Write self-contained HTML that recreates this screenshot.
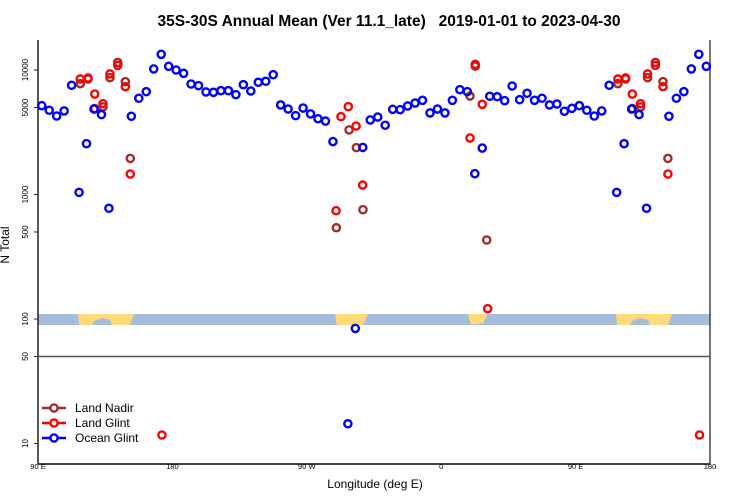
<!DOCTYPE html>
<html><head><meta charset="utf-8"><style>
body{margin:0;background:#fff}
svg{display:block;font-family:"Liberation Sans",sans-serif}
</style></head><body>
<svg id="chart" width="750" height="500" viewBox="0 0 750 500">
<text x="389" y="26" text-anchor="middle" font-size="15.5" font-weight="bold" style="white-space:pre">35S-30S Annual Mean (Ver 11.1_late)   2019-01-01 to 2023-04-30</text>
<g id="band">
<rect x="38" y="314" width="672" height="11" fill="#a6bcdb"/>
<path d="M78,314 L134,314 L130,325 L112,325 L110,320 L102,318 L94,321 L92,325 L79,325 Z" fill="#ffd97a"/>
<path d="M616,314 L672,314 L668,325 L650,325 L648,320 L640,318 L632,321 L630,325 L617,325 Z" fill="#ffd97a"/>
<path d="M335,314 L368,314 L363,325 L337,325 Z" fill="#ffd97a"/>
<path d="M468,314 L488,314 L483,323 L471,325 Z" fill="#ffd97a"/>
</g>
<g id="axes"></g>
<g id="marks"></g>
<g id="legend"></g>
<text x="375" y="488" text-anchor="middle" font-size="12">Longitude (deg E)</text>
<text transform="translate(9,245) rotate(-90)" text-anchor="middle" font-size="12">N Total</text>
</svg>
<script>
const oceanLon = [92.5,97.5,102.5,107.5,112.5,117.5,122.5,127.5,132.5,137.5,152.5,157.5,162.5,167.5,172.5,177.5,182.5,187.5,192.5,197.5,202.5,207.5,212.5,217.5,222.5,227.5,232.5,237.5,242.5,247.5,252.5,257.5,262.5,267.5,272.5,277.5,282.5,287.5,297.5,302.5,307.5,312.5,317.5,322.5,327.5,332.5,337.5,342.5,347.5,352.5,357.5,362.5,367.5,372.5,377.5,382.5,387.5,392.5,397.5,402.5,407.5,412.5,417.5,422.5,427.5,432.5,437.5,442.5,447.5];
const oceanVal = [5170,4750,4270,4690,7540,1040,2560,4860,4380,775,4250,5930,6700,10200,13370,10700,10000,9400,7720,7480,6660,6620,6820,6820,6340,7620,6780,7970,8120,9170,5240,4860,4300,4950,4440,4060,3890,2660,14.4,84,2390,3970,4190,3600,4830,4800,5140,5430,5710,4520,4860,4520,5710,6950,6700,1470,2360,6150,6100,5670,7440,5780,6500,5710,5930,5240,5330,4660,4920];
const glintLon = [118.3,123.5,128,133.5,138.2,143.4,148.5,151.8,173,289.6,292.9,297.8,303,307.4,379.3,382.8,387.5,391.1];
const glintVal = [8470,8630,6410,5360,9290,10900,7340,1460,11.7,741,4220,5080,3550,1190,2840,10760,5300,121];
const nadirLon = [118.3,123.5,128,133.5,138.2,143.4,148.5,151.8,289.8,298.3,303.2,307.6,379.3,382.8,390.5];
const nadirVal = [7760,8470,4900,5050,8670,11500,8060,1950,541,3300,2380,755,6180,11100,431];
const yTicks = [10,50,100,500,1000,5000,10000];
const xTickVals = [90,180,270,360,450,540];
const xTickLabels = ["90 E","180","90 W","0","90 E","180"];

const NS="http://www.w3.org/2000/svg";
const X0=38,X1=710,LON0=90,LON1=540;
function xs(l){return X0+(l-LON0)*(X1-X0)/(LON1-LON0);}
function ys(v){return 70+(4-Math.log10(v))*124.5;}
function mk(t,a,p){const e=document.createElementNS(NS,t);for(const k in a)e.setAttribute(k,a[k]);(p||document.getElementById('marks')).appendChild(e);return e;}
const ax=document.getElementById('axes');
let l;
l=mk('line',{x1:X0,y1:40,x2:X0,y2:464,stroke:'#222','stroke-width':1.5},ax);


l=mk('line',{x1:X1,y1:40,x2:X1,y2:464,stroke:'#444','stroke-width':1.5},ax);


l=mk('line',{x1:X0,y1:464,x2:X1,y2:464,stroke:'#444','stroke-width':2},ax);


l=mk('line',{x1:X0,y1:ys(50),x2:X1,y2:ys(50),stroke:'#555','stroke-width':1.5},ax);


yTicks.forEach(v=>{const y=ys(v);
 const t=mk('line',{x1:X0-4,y1:y,x2:X0,y2:y,stroke:'#222'},ax);
 
 
 const tx=mk('text',{transform:`translate(28,${y}) rotate(-90)`,'text-anchor':'middle','font-size':8},ax);
 tx.textContent=v;
 
 
});
xTickVals.forEach((v,i)=>{const x=xs(v);
 const tx=mk('text',{x:x,y:469,'text-anchor':'middle','font-size':7.5},ax);
 tx.textContent=xTickLabels[i];
 
 
});
function series(lons,vals,color,name){
 lons.forEach((lo,i)=>{
  const pos=[lo]; if(lo+360<=LON1) pos.push(lo+360);
  pos.forEach(p=>{
   const c=mk('circle',{cx:xs(p),cy:ys(vals[i]),r:3.6,fill:'none',stroke:color,'stroke-width':2.4});
   
   
  });
 });
}
series(nadirLon,nadirVal,'#a52a2a','land-nadir-point');
series(glintLon,glintVal,'#ff0000','land-glint-point');
series(oceanLon,oceanVal,'#0000ff','ocean-glint-point');
const lg=document.getElementById('legend');
[['Land Nadir','#a52a2a'],['Land Glint','#ff0000'],['Ocean Glint','#0000ff']].forEach((d,i)=>{
 const y=408+i*15;
 const g=mk('g',{},lg);
 
 
 mk('line',{x1:42,y1:y,x2:66,y2:y,stroke:d[1],'stroke-width':2.5},g);
 mk('circle',{cx:54,cy:y,r:3.6,fill:'#fff',stroke:d[1],'stroke-width':2.4},g);
 const t=mk('text',{x:75,y:y+4,'font-size':12},g);
 t.textContent=d[0];
});
</script>
</body></html>
